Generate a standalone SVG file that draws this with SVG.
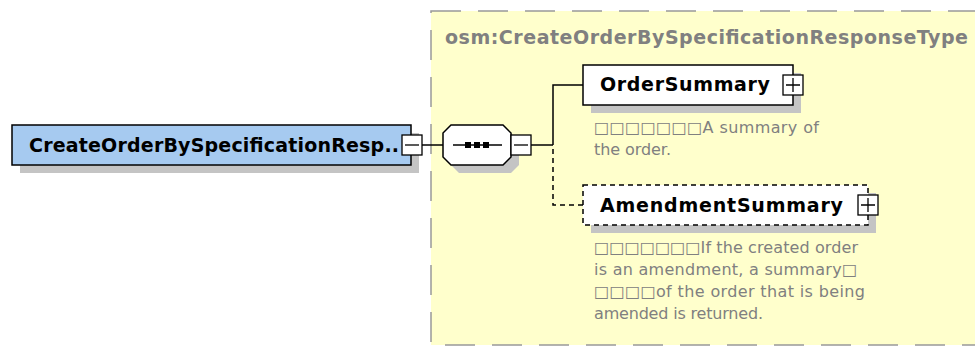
<svg xmlns="http://www.w3.org/2000/svg" width="975" height="347" viewBox="0 0 975 347">
<style>
.lbl{font-family:"DejaVu Sans","Liberation Sans",sans-serif;font-weight:bold;font-size:19px;fill:#000}
.ttl{font-family:"DejaVu Sans","Liberation Sans",sans-serif;font-weight:bold;font-size:19px;fill:#808080}
.doc{font-family:"DejaVu Sans","Liberation Sans",sans-serif;font-size:16px;fill:#808080}
.shadow{fill:#c4c4c4}
.box{stroke:#000;stroke-width:1.5}
.btn{fill:#fff;stroke:#000;stroke-width:1.3}
.sign{stroke:#000;stroke-width:1.3;fill:none}
.conn{stroke:#000;stroke-width:1.5;fill:none}
.dash{stroke-dasharray:5 4}
</style>
<rect x="0" y="0" width="975" height="347" fill="#fff"/>
<g id="complexType">
<rect x="431" y="11" width="560" height="334" fill="#ffffcc" stroke="#999" stroke-width="1.5" stroke-dasharray="30 17"/>
<text class="ttl" x="445" y="44" textLength="523">osm:CreateOrderBySpecificationResponseType</text>
</g>
<g id="connectors">
<line class="conn" x1="422" y1="145" x2="443" y2="145"/>
<line class="conn" x1="531" y1="145" x2="553" y2="145"/>
<polyline class="conn" points="553,145 553,85 583,85"/>
<polyline class="conn dash" points="553,149 553,205 583,205"/>
</g>
<g id="root">
<rect class="shadow" x="20" y="133" width="399" height="40"/>
<rect class="box" x="12" y="125" width="399" height="40" fill="#a6caf0"/>
<text class="lbl" x="29" y="152" textLength="370">CreateOrderBySpecificationResp..</text>
<rect class="btn" x="402" y="135" width="20" height="20"/>
<line class="sign" x1="405" y1="145" x2="419" y2="145"/>
</g>
<g id="sequence">
<polygon class="shadow" points="459,133 511,133 519,141 519,165 511,173 459,173 451,165 451,141"/>
<polygon class="box" fill="#fff" points="451,125 503,125 511,133 511,157 503,165 451,165 443,157 443,133"/>
<line class="sign" x1="453" y1="145" x2="502" y2="145" stroke-width="1.5"/>
<rect x="465" y="142" width="6" height="6" fill="#000"/>
<rect x="474" y="142" width="6" height="6" fill="#000"/>
<rect x="483" y="142" width="6" height="6" fill="#000"/>
<rect class="btn" x="511" y="135" width="20" height="20"/>
<line class="sign" x1="514" y1="145" x2="528" y2="145"/>
</g>
<g id="OrderSummary">
<rect class="shadow" x="591" y="73" width="210" height="40"/>
<rect class="box" x="583" y="65" width="210" height="40" fill="#fff"/>
<text class="lbl" x="600" y="91" textLength="170">OrderSummary</text>
<rect class="btn" x="783" y="75" width="20" height="20"/>
<path class="sign" d="M786,85H800M793,78V92"/>
<text class="doc" x="594" y="133" textLength="225">□□□□□□□A summary of</text>
<text class="doc" x="594" y="155" textLength="77">the order.</text>
</g>
<g id="AmendmentSummary">
<rect class="shadow" x="591" y="193" width="285" height="40"/>
<rect class="box dash" x="583" y="185" width="285" height="40" fill="#fff"/>
<text class="lbl" x="600" y="212" textLength="243">AmendmentSummary</text>
<rect class="btn" x="858" y="195" width="20" height="20"/>
<path class="sign" d="M861,205H875M868,198V212"/>
<text class="doc" x="594" y="253" textLength="264">□□□□□□□If the created order</text>
<text class="doc" x="594" y="275" textLength="263">is an amendment, a summary□</text>
<text class="doc" x="594" y="297" textLength="271">□□□□of the order that is being</text>
<text class="doc" x="594" y="319" textLength="169">amended is returned.</text>
</g>
</svg>
